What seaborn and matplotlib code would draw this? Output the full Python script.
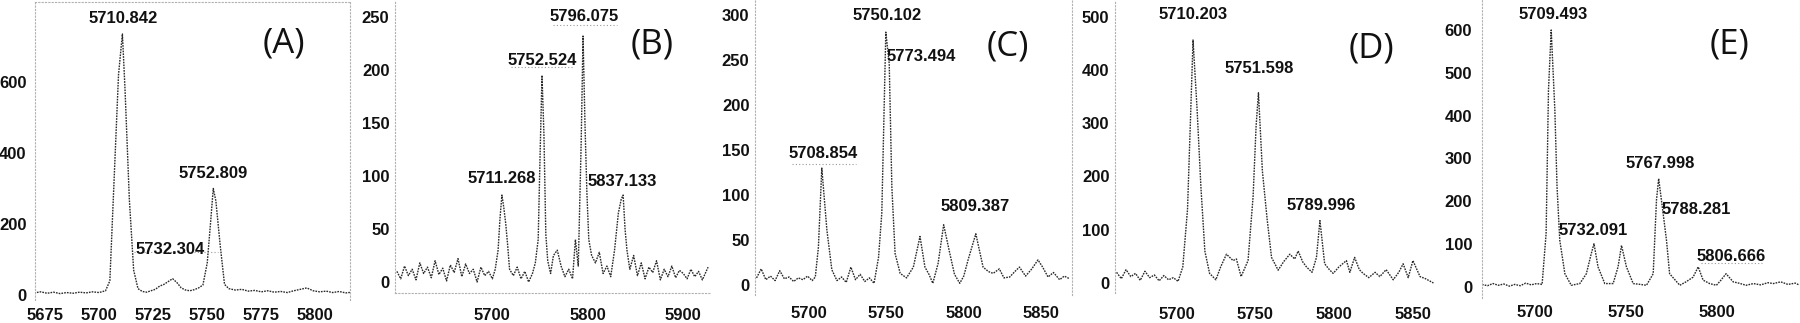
import numpy as np
import pandas as pd
import matplotlib
matplotlib.use('Agg')
import matplotlib.pyplot as plt
import seaborn as sns

sns.set_theme(style='white')
plt.rcParams['font.family'] = ['Liberation Sans', 'DejaVu Sans']
plt.rcParams['font.weight'] = 'bold'

# ---- spectra (m/z, intensity) ----
a_mz = [5670, 5673, 5676, 5679, 5682, 5685, 5688, 5691, 5694, 5697,
        5700, 5703, 5705, 5707, 5709, 5710.8, 5712, 5714, 5716, 5718,
        5720, 5722, 5724, 5726, 5728, 5730, 5732, 5734, 5736, 5738,
        5740, 5742, 5744, 5746, 5748, 5750, 5751.5, 5752.8, 5754, 5756,
        5758, 5760, 5763, 5766, 5769, 5772, 5775, 5778, 5781, 5784,
        5787, 5790, 5793, 5796, 5799, 5802, 5805, 5808, 5811, 5814,
        5817]
a_int = [6, 9, 5, 8, 4, 7, 5, 8, 6, 9,
         7, 12, 40, 330, 620, 735, 580, 270, 70, 18,
         10, 8, 12, 16, 25, 30, 38, 46, 35, 20,
         14, 12, 15, 20, 28, 90, 200, 300, 265, 140,
         30, 18, 14, 16, 11, 13, 9, 12, 8, 10,
         7, 12, 16, 20, 12, 9, 11, 7, 10, 6,
         8]

b_mz = [5600, 5604, 5608, 5612, 5616, 5620, 5624, 5628, 5632, 5636,
        5640, 5644, 5648, 5652, 5656, 5660, 5664, 5668, 5672, 5676,
        5680, 5684, 5688, 5692, 5696, 5700, 5703, 5706, 5708, 5710,
        5712, 5714, 5716, 5718, 5722, 5726, 5730, 5734, 5738, 5742,
        5745, 5748, 5750, 5752, 5754, 5756, 5758, 5761, 5764, 5768,
        5772, 5776, 5780, 5784, 5787, 5790, 5793, 5795, 5797, 5799,
        5801, 5804, 5808, 5812, 5816, 5820, 5824, 5828, 5832, 5835,
        5837, 5839, 5841, 5844, 5848, 5852, 5856, 5860, 5864, 5868,
        5872, 5876, 5880, 5884, 5888, 5892, 5896, 5900, 5904, 5908,
        5912, 5916, 5920, 5926]
b_int = [10, 3, 15, 6, 12, 2, 18, 8, 14, 4,
         20, 7, 13, 1, 16, 9, 22, 5, 17, 8,
         12, 0, 14, 6, 10, 3, 12, 30, 60, 82,
         70, 55, 35, 12, 6, 14, 3, 10, 0, 8,
         18, 40, 120, 195, 140, 45, 20, 8, 25, 30,
         15, 5, 12, 3, 40, 15, 130, 232, 150, 85,
         40, 25, 18, 28, 8, 15, 5, 30, 65, 78,
         82, 50, 30, 12, 25, 6, 18, 3, 14, 9,
         20, 2, 12, 5, 15, 4, 11, 8, 3, 12,
         5, 10, 2, 14]

c_mz = [5666, 5669, 5672, 5675, 5678, 5681, 5684, 5687, 5690, 5693,
        5696, 5699, 5702, 5704, 5706, 5708.2, 5711.5, 5714.7, 5718, 5721,
        5724, 5727, 5730, 5733, 5736, 5739, 5742, 5744.9, 5747, 5749.6,
        5751.8, 5753.5, 5755.6, 5758.9, 5763, 5767.4, 5771.7, 5774.9, 5777.5, 5780,
        5783.4, 5787, 5791, 5794, 5797.4, 5800, 5802.8, 5807.8, 5812.5, 5816,
        5819, 5823, 5826, 5829.7, 5833, 5836, 5840, 5844, 5848, 5851,
        5854.5, 5858, 5862, 5865, 5868.5]
c_int = [8, 18, 6, 10, 5, 16, 7, 9, 4, 8,
         6, 10, 5, 9, 42, 130, 61, 17, 5, 9,
         3, 20, 6, 12, 4, 8, 2, 31, 80, 281,
         246, 109, 35, 13, 8, 20, 54, 20, 12, 2,
         24, 67, 35, 12, 2, 10, 28, 57, 20, 15,
         13, 18, 8, 9, 15, 20, 10, 18, 28, 20,
         9, 14, 6, 10, 7]

d_mz = [5662, 5665, 5668, 5671, 5674, 5677, 5680, 5683, 5686, 5689,
        5692, 5695, 5698, 5701, 5704, 5707, 5709, 5710.5, 5713, 5715.5,
        5718, 5721, 5725, 5728, 5731.7, 5735.9, 5738, 5741, 5745.4, 5748.6,
        5750.5, 5752, 5754.5, 5757.5, 5760.3, 5764.5, 5768, 5771.9, 5775, 5777.2,
        5780, 5782.5, 5786, 5788.8, 5791, 5794, 5797, 5799.4, 5803, 5807.8,
        5810, 5813, 5816, 5818.4, 5822, 5826, 5829, 5833, 5837.5, 5841,
        5843.8, 5847, 5850, 5854.5, 5858, 5863]
d_int = [20, 8, 25, 12, 18, 5, 22, 10, 15, 4,
         14, 6, 10, 3, 30, 138, 318, 456, 330, 180,
         60, 18, 6, 30, 54, 42, 45, 12, 42, 162,
         294, 357, 210, 120, 48, 24, 40, 54, 45, 60,
         40, 30, 20, 48, 117, 36, 25, 18, 30, 42,
         20, 48, 25, 18, 10, 20, 12, 25, 6, 20,
         36, 10, 42, 12, 8, 0]

e_mz = [5671, 5674, 5677, 5680, 5683, 5686, 5689, 5692, 5695, 5698,
        5701, 5704, 5706.2, 5707.5, 5709, 5711, 5712.2, 5713.7, 5716.5, 5720,
        5724.7, 5728.3, 5731, 5732.5, 5734.7, 5738.4, 5743, 5745.7, 5747.6, 5750.3,
        5754, 5758, 5761.3, 5765, 5766.8, 5768, 5770, 5772.3, 5774, 5779.6,
        5783, 5786.9, 5789.7, 5792.4, 5796, 5799.7, 5802, 5805, 5808.9, 5812,
        5816, 5820, 5824, 5828, 5831, 5835, 5839, 5843, 5845]
e_int = [6, 3, 8, 4, 7, 2, 6, 3, 9, 5,
         8, 6, 125, 460, 600, 413, 234, 109, 31, 4,
         8, 31, 78, 101, 47, 8, 8, 47, 97, 47,
         8, 6, 4, 31, 203, 253, 187, 109, 31, 4,
         12, 23, 47, 16, 8, 4, 15, 31, 12, 9,
         4, 8, 5, 10, 8, 12, 6, 9, 5]

# tick labels
a_xticks = [5675, 5700, 5725, 5750, 5775, 5800]
b_xticks = [5700, 5800, 5900]
c_xticks = [5700, 5750, 5800, 5850]
d_xticks = [5700, 5750, 5800, 5850]
e_xticks = [5700, 5750, 5800]
a_yticks = [0, 200, 400, 600]
b_yticks = [0, 50, 100, 150, 200, 250]
c_yticks = [0, 50, 100, 150, 200, 250, 300]
d_yticks = [0, 100, 200, 300, 400, 500]
e_yticks = [0, 100, 200, 300, 400, 500, 600]

# peak labels (text, m/z, intensity)
a_peaks = [('5710.842', 5711.2, 779), ('5752.809', 5752.9, 343), ('5732.304', 5732.9, 127)]
b_peaks = [('5796.075', 5796.3, 250), ('5752.524', 5752.0, 209),
           ('5711.268', 5710.1, 98), ('5837.133', 5835.8, 95)]
c_peaks = [('5750.102', 5750.2, 300), ('5773.494', 5772.8, 254),
           ('5708.854', 5709.3, 146), ('5809.387', 5807.3, 87)]
d_peaks = [('5710.203', 5710.4, 503), ('5751.598', 5752.8, 403), ('5789.996', 5792.0, 146)]
e_peaks = [('5709.493', 5710.0, 636), ('5767.998', 5768.7, 289), ('5788.281', 5788.8, 180),
           ('5732.091', 5732.0, 133), ('5806.666', 5808.0, 72)]

W, H = 1800, 323
FS = 12
fig = plt.figure(figsize=(W / 100, H / 100), dpi=100)

panels = [
    # letter, mz, int, xticks, yticks, peaks, box px (x0, x1, ytop, ybot), xlim, ylim,
    # letter pos, xpad, ypad, visible spines, label underlines (x0, x1, y)
    ('(A)', a_mz, a_int, a_xticks, a_yticks, a_peaks, (35, 350, 2, 300),
     (5670.4, 5816), (-14, 825), (5785.3, 709), 4, 4, ['left', 'top', 'right'],
     [(5716, 5755, 122)]),
    ('(B)', b_mz, b_int, b_xticks, b_yticks, b_peaks, (395, 710, 0, 293),
     (5598, 5928), (-10.4, 266), (5867, 224), 9, 2, ['left', 'bottom'],
     [(5719, 5785, 203), (5764, 5831, 242)]),
    ('(C)', c_mz, c_int, c_xticks, c_yticks, c_peaks, (755, 1072, 0, 295),
     (5665, 5870), (-11, 316.7), (5828.8, 265), 6, 2, ['left', 'right'],
     [(5689, 5730, 135)]),
    ('(D)', d_mz, d_int, d_xticks, d_yticks, d_peaks, (1115, 1435, 0, 293),
     (5661, 5864), (-18.8, 531), (5823.8, 440), 8, 2, ['left'], []),
    ('(E)', e_mz, e_int, e_xticks, e_yticks, e_peaks, (1482, 1800, 0, 298),
     (5671, 5845.6), (-25.7, 670), (5807, 565), 3, 5, ['left', 'right'],
     [(5791, 5825, 55)]),
]

for (letter, mz, inten, xt, yt, peaks, box, xlim, ylim, lpos,
     xpad, ypad, spines, lines) in panels:
    x0, x1, yt0, yb0 = box
    ax = fig.add_axes([x0 / W, (H - yb0) / H, (x1 - x0) / W, (yb0 - yt0) / H])
    df = pd.DataFrame({'mz': mz, 'intensity': inten})
    sns.lineplot(data=df, x='mz', y='intensity', ax=ax, estimator=None,
                 color='#2a2a2a', lw=1.0, linestyle=(0, (1.2, 0.8)))
    ax.set_xlim(*xlim)
    ax.set_ylim(*ylim)
    ax.set_xticks(xt)
    ax.set_yticks(yt)
    ax.set_xlabel('')
    ax.set_ylabel('')
    ax.tick_params(axis='x', length=2, color='#bbbbbb', pad=xpad, labelsize=FS,
                   labelcolor='#111111')
    ax.tick_params(axis='y', length=2, color='#bbbbbb', pad=ypad, labelsize=FS,
                   labelcolor='#111111')
    for s in ['left', 'right', 'top', 'bottom']:
        sp = ax.spines[s]
        if s in spines:
            sp.set_visible(True)
            sp.set_linestyle((0, (1, 2)))
            sp.set_color('#b0b0b0')
            sp.set_linewidth(0.8)
        else:
            sp.set_visible(False)
    for txt, px, py in peaks:
        ax.text(px, py, txt, ha='center', va='center', fontsize=FS,
                fontweight='bold', color='#111111')
    for lx0, lx1, ly in lines:
        ax.plot([lx0, lx1], [ly, ly], color='#999999', lw=0.8, linestyle=(0, (1, 2)))
    ax.text(lpos[0], lpos[1], letter, ha='center', va='center', fontsize=25,
            family=['Open Sans', 'DejaVu Sans'], fontweight='normal', color='#111111')

fig.savefig('out.png', dpi=100)
